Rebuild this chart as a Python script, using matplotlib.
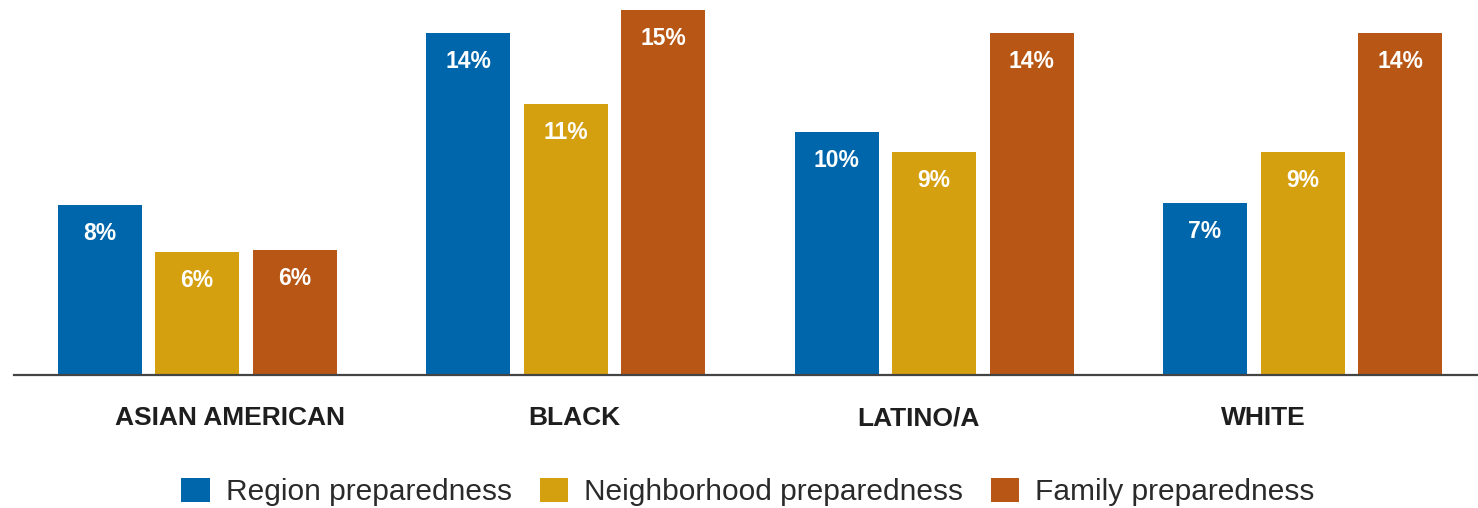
import matplotlib
matplotlib.use("Agg")
import matplotlib.pyplot as plt
from matplotlib.patches import Patch
from matplotlib import font_manager as fm
import numpy as np

categories = ["ASIAN AMERICAN", "BLACK", "LATINO/A", "WHITE"]
series = ["Region preparedness", "Neighborhood preparedness", "Family preparedness"]
# bar heights (percent)
region = [6.96, 14.0, 9.95, 7.04]
neighborhood = [5.03, 11.09, 9.13, 9.13]
family = [5.12, 14.94, 14.0, 14.0]
# printed labels
region_labels = ["8%", "14%", "10%", "7%"]
neighborhood_labels = ["6%", "11%", "9%", "9%"]
family_labels = ["6%", "15%", "14%", "14%"]

colors = ["#0066AB", "#D5A010", "#B85715"]

names = {f.name for f in fm.fontManager.ttflist}
cond = "Liberation Sans Narrow" if "Liberation Sans Narrow" in names else "Liberation Sans"
plain = "Liberation Sans" if "Liberation Sans" in names else "DejaVu Sans"

fig = plt.figure(figsize=(14.78, 5.08), dpi=100)
W, H = 1478, 508
ax = fig.add_axes([14 / W, (H - 375) / H, 1 - 14 / W, 375 / H])

G = 368.5
pitch = 97.5
width = 84
x0 = 197
x = x0 + np.arange(len(categories)) * G
vals = [region, neighborhood, family]
labs = [region_labels, neighborhood_labels, family_labels]
for i in range(3):
    xs = x + (i - 1) * pitch
    ax.bar(xs, vals[i], width=width, color=colors[i], zorder=2)
    for xi, v, t in zip(xs, vals[i], labs[i]):
        ax.annotate(t, xy=(xi, v), xytext=(0, -35), textcoords="offset pixels",
                    ha="center", va="baseline", color="white",
                    fontsize=16.5, fontweight="bold", family=[cond, "DejaVu Sans"])

# category labels sit on their own, slightly different spacing
lx = 230 + np.arange(len(categories)) * 344.3
for xi, c in zip(lx, categories):
    ax.text(xi, -50 / 375, c, transform=ax.get_xaxis_transform(), ha="center",
            va="baseline", fontsize=19, fontweight="bold", color="#1E1E1E",
            family=[cond, "DejaVu Sans"])

ax.set_xlim(14, 1478)
ax.set_ylim(0, 15.35)
for s in ["top", "right", "left"]:
    ax.spines[s].set_visible(False)
ax.spines["bottom"].set_color("#444444")
ax.spines["bottom"].set_linewidth(1.6)
ax.spines["bottom"].set_zorder(3)
ax.set_xticks([])
ax.set_yticks([])

handles = [Patch(facecolor=c, edgecolor="none") for c in colors]
leg = fig.legend(handles, series, loc="center", bbox_to_anchor=(748 / W, (H - 492) / H),
                 ncol=3, frameon=False, handlelength=0.94, handleheight=0.9,
                 handletextpad=0.54, columnspacing=0.94, borderpad=0, borderaxespad=0,
                 prop={"family": plain, "size": 21.5})
for t in leg.get_texts():
    t.set_color("#2A2A2A")

fig.savefig("out.png", dpi=100)
